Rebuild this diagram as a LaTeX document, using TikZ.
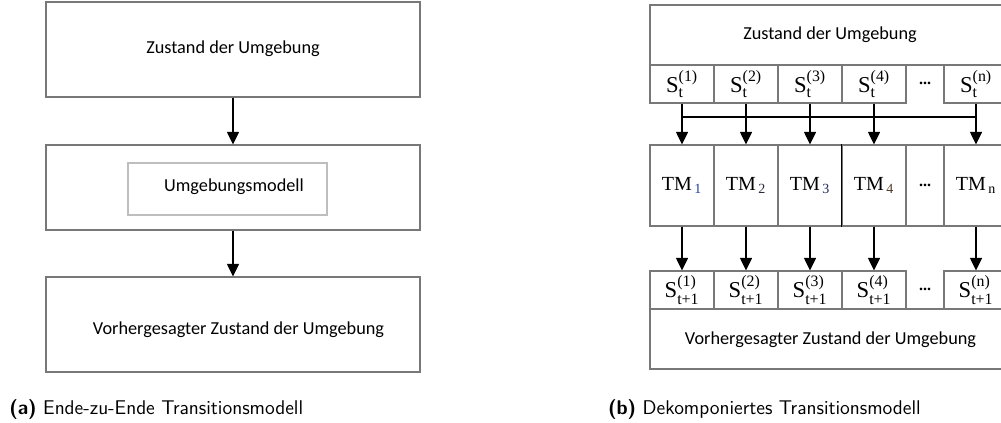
\documentclass[tikz,border=0pt]{standalone}
\usepackage{amsmath}
\usepackage{fontspec}
\usetikzlibrary{arrows.meta}
\newfontfamily\carl{Carlito}
\newfontfamily\tms{Liberation Serif}
\definecolor{bord}{RGB}{120,120,120}
\definecolor{bordlight}{RGB}{190,190,190}
\definecolor{subA}{RGB}{30,60,150}
\definecolor{subB}{RGB}{40,40,60}
\definecolor{subC}{RGB}{30,40,90}
\definecolor{subD}{RGB}{80,60,40}
\tikzset{
  box/.style={draw=bord, line width=0.8pt, inner sep=0pt, rectangle},
  lbl/.style={font=\carl\fontsize{13.7}{16}\selectfont, inner sep=0pt},
  cell/.style={box, minimum height=28.5pt, font=\tms\fontsize{17}{19}\selectfont},
  wcell/.style={cell, minimum width=48pt},
  tmcell/.style={box, minimum width=48pt, minimum height=60.75pt, font=\tms\fontsize{15}{17}\selectfont},
  arr/.style={line width=1.2pt, -{Triangle[width=9pt,length=9.5pt]}},
  barline/.style={line width=1.5pt},
  captxt/.style={font=\sffamily\fontsize{14.9}{16}\selectfont, inner sep=0pt}
}
\newcommand{\St}[1]{$\text{S}_{\text{t}}^{\text{(#1)}}$}
\newcommand{\Stt}[1]{$\text{S}_{\text{t+1}}^{\text{(#1)}}$}
\begin{document}
\begin{tikzpicture}[x=0.75pt,y=-0.75pt]
\useasboundingbox (0,0) rectangle (1001,423);
\clip (0,0) rectangle (1001,423);
% ---------- left panel ----------
\node[box, minimum width=280.5pt, minimum height=71.25pt] (Ltop) at (233,49.5) {};
\node[lbl] (LtopT) at (233,49) {Zustand der Umgebung};
\node[box, minimum width=280.5pt, minimum height=63.75pt] (Lmid) at (233,187.5) {};
\node[draw=bordlight, line width=0.8pt, minimum width=149.25pt, minimum height=39pt, inner sep=0pt] (Linner) at (227.5,189) {};
\node[lbl] (LinnerT) at (234,187) {Umgebungsmodell};
\node[box, minimum width=280.5pt, minimum height=71.25pt] (Lbot) at (233,324.5) {};
\node[lbl] (LbotT) at (238.5,330) {Vorhergesagter Zustand der Umgebung};
\draw[arr] (Ltop.south) -- (Lmid.north);
\draw[arr] (Lmid.south) -- (Lbot.north);
\node[captxt, anchor=west] (capA) at (9,410) {\textbf{(a)} Ende-zu-Ende Transitionsmodell};
% ---------- right panel ----------
\node[box, minimum width=268.5pt, minimum height=45pt] (Rtop) at (829,35) {};
\node[lbl] (RtopT) at (830,35) {Zustand der Umgebung};
% S_t row
\node[wcell] (s1) at (682,84) {\St{1}};
\node[wcell] (s2) at (746,84) {\St{2}};
\node[wcell] (s3) at (810,84) {\St{3}};
\node[wcell] (s4) at (874,84) {\St{4}};
\node[cell, draw=none, minimum width=28.5pt] (sd) at (925,84) {\textbf{\tms\fontsize{12}{14}\selectfont\raisebox{1pt}{...}}};
\node[wcell] (sn) at (976,84) {\St{n}};
% TM row
\node[tmcell] (tm1) at (682,185.5) {TM$_{\,\text{\color{subA}1}}$};
\node[tmcell] (tm2) at (746,185.5) {TM$_{\,\text{\color{subB}2}}$};
\node[tmcell] (tm3) at (810,185.5) {TM$_{\,\text{\color{subC}3}}$};
\node[tmcell] (tm4) at (874,185.5) {TM$_{\,\text{\color{subD}4}}$};
\node[tmcell, minimum width=28.5pt] (tmd) at (925,185.5) {\textbf{\tms\fontsize{12}{14}\selectfont\raisebox{1pt}{...}}};
\node[tmcell] (tmn) at (976,185.5) {TM$_{\,\text{n}}$};
\draw[black, line width=0.8pt] (tm4.north west) -- (tm4.south west);
% S_{t+1} row
\node[wcell] (u1) at (682,290) {\Stt{1}};
\node[wcell] (u2) at (746,290) {\Stt{2}};
\node[wcell] (u3) at (810,290) {\Stt{3}};
\node[wcell] (u4) at (874,290) {\Stt{4}};
\node[cell, draw=none, minimum width=28.5pt] (ud) at (925,290) {\textbf{\tms\fontsize{12}{14}\selectfont\raisebox{1pt}{...}}};
\node[wcell] (un) at (976,290) {\Stt{n}};
\node[box, minimum width=268.5pt, minimum height=45pt] (Rbot) at (829,339) {};
\node[lbl] (RbotT) at (830.5,340) {Vorhergesagter Zustand der Umgebung};
% arrows top
\coordinate (barY) at (0,117);
\draw[barline] (s1.south |- barY) -- (sn.south |- barY);
\foreach \a/\b in {s1/tm1,s2/tm2,s3/tm3,s4/tm4,sn/tmn}
  \draw[arr] (\a.south) -- (\b.north);
% arrows bottom
\foreach \a/\b in {tm1/u1,tm2/u2,tm3/u3,tm4/u4,tmn/un}
  \draw[arr] (\a.south) -- (\b.north);
\node[captxt, anchor=east] (capB) at (921,410) {\textbf{(b)} Dekomponiertes Transitionsmodell};
\end{tikzpicture}
\end{document}
